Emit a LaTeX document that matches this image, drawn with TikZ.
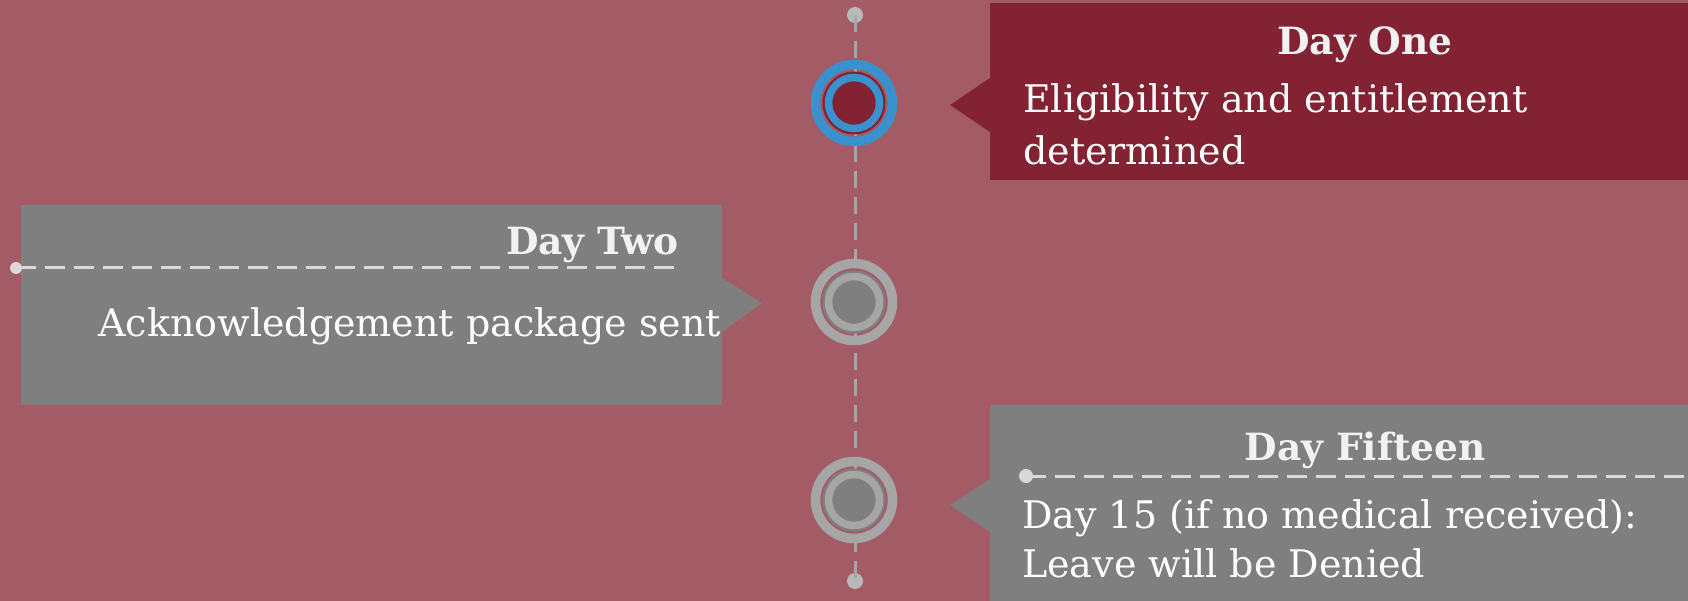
\documentclass[tikz,border=0pt]{standalone}
\usepackage{fontspec}
\setmainfont{DejaVu Serif}
\definecolor{bg}{RGB}{163,92,102}
\definecolor{wine}{RGB}{130,34,50}
\definecolor{boxgray}{RGB}{127,127,127}
\definecolor{ringgray}{RGB}{166,166,166}
\definecolor{dotgray}{RGB}{185,185,185}
\definecolor{dashlight}{RGB}{217,217,217}
\definecolor{ringblue}{RGB}{57,145,205}
\definecolor{headtxt}{RGB}{242,242,242}
\tikzset{
  dotnode/.style={circle,inner sep=0pt,minimum size=#1},
  vline/.style={ringgray,line width=3pt,dash pattern=on 17pt off 9pt},
  hline/.style={dashlight,line width=3pt,dash pattern=on 20pt off 9pt},
  headtext/.style={inner sep=0pt,text=headtxt,font=\fontsize{37.5}{41}\selectfont\bfseries},
  bodytext/.style={inner sep=0pt,text=white,font=\fontsize{38}{42}\selectfont},
  markernode/.style={circle,inner sep=0pt,minimum size=88pt},
}
\newcommand\tlmarker[3]{% name, ring colour, fill colour
  \draw[#2,line width=9.5pt] (#1.center) circle[radius=38.5];
  \fill[#3] (#1.center) circle[radius=31.5];
  \draw[#2,line width=7.5pt] (#1.center) circle[radius=25.5];
}
\begin{document}
\begin{tikzpicture}[x=1pt,y=-1pt]
\fill[bg] (0,0) rectangle (1688,601);
\useasboundingbox (0,0) rectangle (1688,601);

% timeline
\node[dotnode=16pt,fill=dotgray] (top) at (855,15) {};
\node[dotnode=16pt,fill=dotgray] (bot) at (855,581) {};
\draw[vline] (top.center) -- (bot.center);

\node[markernode] (m1) at (854,103) {};
\node[markernode] (m2) at (854,302) {};
\node[markernode] (m3) at (854,500) {};
\tlmarker{m1}{ringblue}{wine}
\tlmarker{m2}{ringgray}{boxgray}
\tlmarker{m3}{ringgray}{boxgray}

% Day One box
\node[fill=wine,inner sep=0pt,anchor=north west,minimum width=698pt,minimum height=177pt] (box1) at (990,3) {};
\fill[wine] (990,78) -- (950,105) -- (990,132) -- cycle;
\node[headtext,anchor=base] (h1) at (1365,55) {Day One};
\node[bodytext,anchor=base west] (b1a) at (1023,113) {Eligibility and entitlement};
\node[bodytext,anchor=base west] (b1b) at (1023,165) {determined};

% Day Two box
\node[fill=boxgray,inner sep=0pt,anchor=north west,minimum width=701.5pt,minimum height=200pt] (box2) at (20.5,205) {};
\fill[boxgray] (722,278) -- (762,303) -- (722,332) -- cycle;
\node[dotnode=12pt,fill=dashlight] (d2) at (16,268) {};
\coordinate (e2) at (674,268);
\draw[hline] (d2.center) -- (e2);
\node[headtext,anchor=base east] (h2) at (679,255) {Day Two};
\node[bodytext,anchor=base east] (b2) at (721,336) {Acknowledgement package sent};

% Day Fifteen box
\node[fill=boxgray,inner sep=0pt,anchor=north west,minimum width=698pt,minimum height=196pt] (box3) at (990,405) {};
\fill[boxgray] (990,479) -- (950,505) -- (990,532) -- cycle;
\node[dotnode=14pt,fill=dashlight] (d3) at (1026,476) {};
\coordinate (e3) at (1688,476);
\draw[hline] (d3.center) -- (e3);
\node[headtext,anchor=base] (h3) at (1365,460) {Day Fifteen};
\node[bodytext,anchor=base west] (b3a) at (1022,528) {Day 15 (if no medical received):};
\node[bodytext,anchor=base west] (b3b) at (1022,577) {Leave will be Denied};
\end{tikzpicture}
\end{document}
